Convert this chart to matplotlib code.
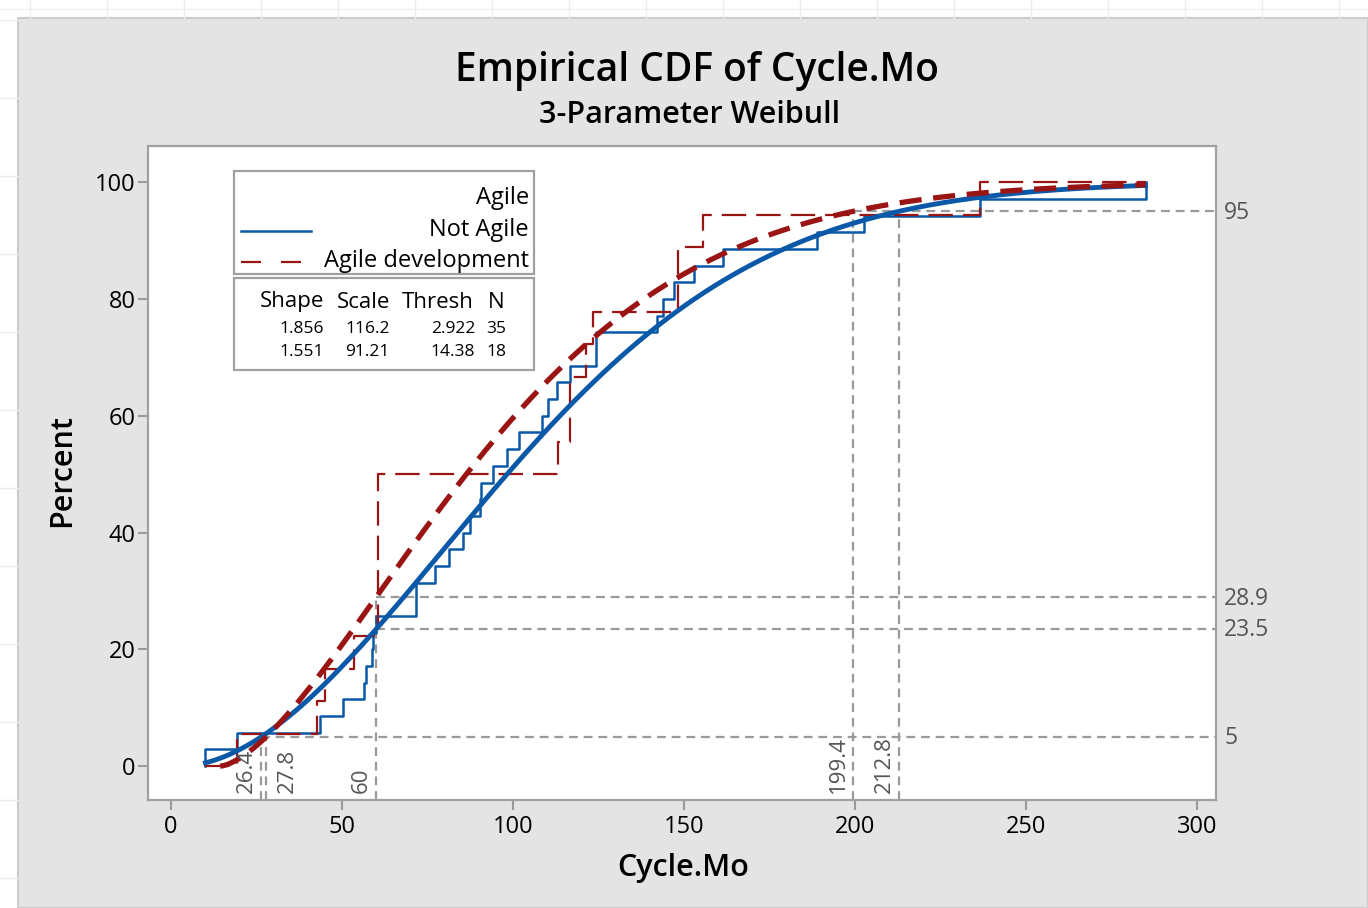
import numpy as np
import matplotlib
matplotlib.use("Agg")
import matplotlib.pyplot as plt
from matplotlib.patches import Rectangle
from matplotlib.lines import Line2D

plt.rcParams['font.family'] = ['Open Sans', 'DejaVu Sans']

# sample values
not_agile_x = [10.1, 19.2, 43.6, 50.2, 56.5, 57.0, 58.7, 59.2, 60.1, 71.6, 71.6,
               77.1, 81.3, 85.4, 87.4, 90.4, 90.8, 94.3, 98.4, 101.9, 108.4, 110.3,
               113.0, 116.7, 124.3, 124.3, 142.0, 143.8, 147.1, 152.9, 161.5, 189.0,
               202.8, 236.5, 285.0]
agile_x = [19.2, 42.6, 45.0, 53.6, 60.5, 60.5, 60.5, 60.5, 60.5, 113.3, 116.6,
           116.6, 121.3, 123.3, 148.3, 148.3, 155.7, 236.5]

# 3-parameter Weibull fits (from the table in the chart)
groups = ["Not Agile", "Agile development"]
shape = [1.856, 1.551]
scale = [116.2, 91.21]
thresh = [2.922, 14.38]
n_obs = [35, 18]

# percentile reference lines
ref_x5 = [26.4, 27.8]
ref_x95 = [212.8, 199.4]
ref_at_x = 60
ref_at_pct = [23.5, 28.9]

W, H = 1368, 908
BLUE = '#0A58A8'
RED = '#9B1414'
GRAY = '#9A9A9A'

fig = plt.figure(figsize=(W / 100, H / 100), dpi=100)
fig.patch.set_facecolor('white')


def fp(x, y):
    return x / W, 1 - y / H


# spreadsheet cells behind the chart
for gx in range(30, W, 77):
    fig.add_artist(Line2D([gx / W, gx / W], [1 - 18 / H, 1], color='#EDEDED', lw=1))
for gy in range(20, H, 78):
    fig.add_artist(Line2D([0, 18 / W], [1 - gy / H, 1 - gy / H], color='#EDEDED', lw=1))
fig.add_artist(Line2D([0, 1], [1 - 9 / H, 1 - 9 / H], color='#F0F0F0', lw=1))

fig.add_artist(Rectangle(fp(18, H), 1 - 18 / W, 1 - 18 / H, transform=fig.transFigure,
                         facecolor='#E4E4E4', edgecolor='#CCCCCC', lw=1.5, zorder=0))

ax = fig.add_axes([148 / W, 1 - 800 / H, (1216 - 148) / W, (800 - 146) / H])
ax.set_facecolor('white')
xmin, xmax = -6.7, 305.6
ymin, ymax = -5.8, 106.2
ax.set_xlim(xmin, xmax)
ax.set_ylim(ymin, ymax)

lo = min(min(not_agile_x), min(agile_x))
hi = max(max(not_agile_x), max(agile_x))


def ecdf_steps(vals):
    v = np.sort(vals)
    n = len(v)
    xs = np.concatenate([[lo], v, [hi]])
    ys = np.concatenate([[0], 100 * np.arange(1, n + 1) / n, [100]])
    return xs, ys


def weibull_cdf(x, k, lam, th):
    z = np.clip((x - th) / lam, 0, None)
    return 100 * (1 - np.exp(-z ** k))


# reference lines
ref_kw = dict(color=GRAY, lw=1.6, ls=(0, (4, 2.6)), zorder=1)
ax.plot([min(ref_x5), xmax], [5, 5], **ref_kw)
ax.plot([min(ref_x95), xmax], [95, 95], **ref_kw)
for p in ref_at_pct:
    ax.plot([ref_at_x, xmax], [p, p], **ref_kw)
for xv in ref_x5:
    ax.plot([xv, xv], [ymin, 5], **ref_kw)
for xv in ref_x95:
    ax.plot([xv, xv], [ymin, 95], **ref_kw)
ax.plot([ref_at_x, ref_at_x], [ymin, max(ref_at_pct)], **ref_kw)

# vertical value labels
lab_kw = dict(rotation=90, va='bottom', textcoords='offset points', fontsize=16,
              color='#555555', zorder=5)
for xv, side in [(26.4, 'r'), (27.8, 'l'), (60, 'r'), (199.4, 'r'), (212.8, 'r')]:
    if side == 'r':
        ax.annotate(f'{xv:g}', (xv, ymin), xytext=(-3, 5), ha='right', **lab_kw)
    else:
        ax.annotate(f'{xv:g}', (xv, ymin), xytext=(8, 5), ha='left', **lab_kw)

# right side labels
for p in [95] + ref_at_pct + [5]:
    ax.annotate(f'{p:g}', (xmax, p), xytext=(6, -1), textcoords='offset points',
                ha='left', va='center', fontsize=16.5, color='#555555',
                annotation_clip=False)

# empirical steps
xs, ys = ecdf_steps(not_agile_x)
ax.step(xs, ys, where='post', color=BLUE, lw=1.8, zorder=3)
xs, ys = ecdf_steps(agile_x)
ax.step(xs, ys, where='post', color=RED, lw=1.6, ls=(0, (11, 4.5)), zorder=3)

# fitted curves
xf = np.linspace(max(lo, thresh[0]), hi, 400)
ax.plot(xf, weibull_cdf(xf, shape[0], scale[0], thresh[0]), color=BLUE, lw=3.5, zorder=4)
xf = np.linspace(max(lo, thresh[1]), hi, 400)
ax.plot(xf, weibull_cdf(xf, shape[1], scale[1], thresh[1]), color=RED, lw=3.8,
        ls=(0, (4.2, 2.2)), zorder=4)

ax.set_xticks([0, 50, 100, 150, 200, 250, 300])
ax.set_yticks([0, 20, 40, 60, 80, 100])
ax.tick_params(direction='out', length=7, width=1.5, color=GRAY, labelsize=17,
               labelcolor='#000000', pad=4)
ax.tick_params(axis='y', pad=2)
for s in ax.spines.values():
    s.set_color('#A0A0A0')
    s.set_linewidth(1.6)

fig.text(*fp(683, 868), 'Cycle.Mo', ha='center', va='center', fontsize=22,
         fontweight='semibold')
fig.text(*fp(62, 471), 'Percent', ha='center', va='center', fontsize=22,
         fontweight='semibold', rotation=90)
fig.text(*fp(697, 71), 'Empirical CDF of Cycle.Mo', ha='center', va='center',
         fontsize=28, fontweight='semibold')
fig.text(*fp(690, 115), '3-Parameter Weibull', ha='center', va='center',
         fontsize=22, fontweight='semibold')

# legend boxes
fig.add_artist(Rectangle(fp(234, 274), 300 / W, 103 / H, transform=fig.transFigure,
                         facecolor='white', edgecolor='#A0A0A0', lw=1.6, zorder=6))
fig.add_artist(Rectangle(fp(234, 370), 300 / W, 92 / H, transform=fig.transFigure,
                         facecolor='white', edgecolor='#A0A0A0', lw=1.6, zorder=6))
leg_kw = dict(ha='right', va='center', fontsize=17, zorder=7)
fig.text(*fp(529, 198), 'Agile', **leg_kw)
fig.text(*fp(529, 230), groups[0], **leg_kw)
fig.text(*fp(529, 261), groups[1], **leg_kw)
fig.add_artist(Line2D([241 / W, 311 / W], [1 - 231 / H] * 2, color=BLUE, lw=1.8, zorder=7))
fig.add_artist(Line2D([241 / W, 311 / W], [1 - 262 / H] * 2, color=RED, lw=1.6,
                      ls=(0, (9, 9)), zorder=7))

hdr_y = 302
for txt, xr in [('Shape', 324), ('Scale', 390), ('Thresh', 474), ('N', 504)]:
    fig.text(*fp(xr, hdr_y), txt, ha='right', va='center', fontsize=16, zorder=7)
cols = [shape, scale, thresh, n_obs]
col_r = [324, 390, 475, 506]
for i, row_y in enumerate([329, 352]):
    for col, xr in zip(cols, col_r):
        fig.text(*fp(xr, row_y), f'{col[i]:g}', ha='right', va='center',
                 fontsize=12.5, zorder=7)

fig.savefig('out.png', dpi=100)
